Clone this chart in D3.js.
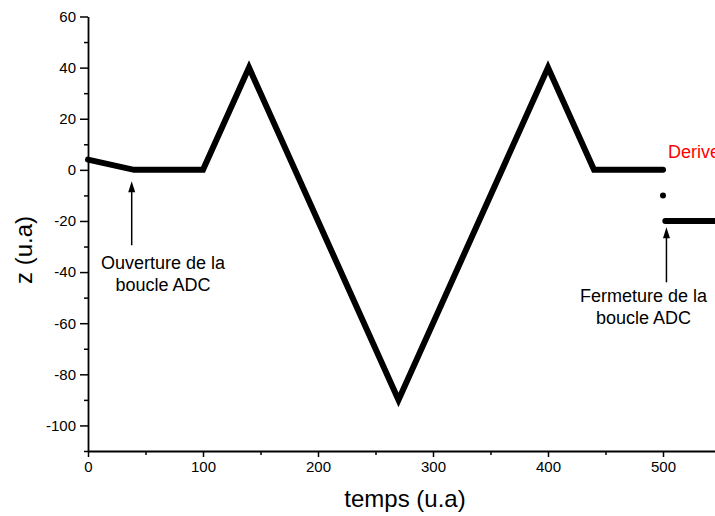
<!DOCTYPE html>
<html><head><meta charset="utf-8">
<script src="https://cdn.jsdelivr.net/npm/d3@7"></script>
<style>
html,body{margin:0;padding:0;background:#fff;overflow:hidden;}
text{font-family:"Liberation Sans",Arial,sans-serif;}
</style></head>
<body>
<script>
// ---- data ----
const mainX = [0, 40, 100, 140, 270, 400, 440, 500];
const mainZ = [4, 0, 0, 40, -90, 40, 0, 0];
const dotX = [500];
const dotZ = [-10];
const afterX = [502, 560];
const afterZ = [-20, -20];
const xTicks = [0, 100, 200, 300, 400, 500];
const xMinor = [50, 150, 250, 350, 450, 550];
const yTicks = [-100, -80, -60, -40, -20, 0, 20, 40, 60];
const yMinor = [-110, -90, -70, -50, -30, -10, 10, 30, 50];
const xLabel = "temps (u.a)";
const yLabel = "z (u.a)";
const noteOpen = ["Ouverture de la", "boucle ADC"];
const noteClose = ["Fermeture de la", "boucle ADC"];
const noteDrift = "Derive";
// arrow positions in data units: [x, zTip, zTail]
const arrowOpen = [38, -4.5, -29.5];
const arrowClose = [503, -22.5, -44];

const W = 715, H = 516;
const svg = d3.select("body").append("svg").attr("width", W).attr("height", H);

const x = d3.scaleLinear().domain([0, 550]).range([88, 88 + 550 * 1.15]);
const y = d3.scaleLinear().domain([-110, 60]).range([451, 16.5]);

// minor ticks
svg.append("g").attr("transform", `translate(0,${y(-110)})`)
  .call(d3.axisBottom(x).tickValues(xMinor).tickSize(4).tickFormat(""))
  .call(g => g.select(".domain").remove());
svg.append("g").attr("transform", `translate(${x(0)},0)`)
  .call(d3.axisLeft(y).tickValues(yMinor).tickSize(4).tickFormat(""))
  .call(g => g.select(".domain").remove());

// major axes
const xa = svg.append("g").attr("transform", `translate(0,${y(-110)})`)
  .call(d3.axisBottom(x).tickValues(xTicks).tickSize(6).tickSizeOuter(0).tickPadding(4).tickFormat(d => String(d)));
const ya = svg.append("g").attr("transform", `translate(${x(0)},0)`)
  .call(d3.axisLeft(y).tickValues(yTicks).tickSize(8).tickSizeOuter(0).tickPadding(4).tickFormat(d => String(d)));
svg.selectAll(".tick line").attr("stroke", "#000").attr("stroke-width", 1.5);
svg.selectAll(".domain").attr("stroke", "#000").attr("stroke-width", 1.8);
svg.selectAll(".tick text").attr("font-size", 15).attr("fill", "#000")
  .style("font-family", "'Liberation Sans', Arial, sans-serif");

// axis titles
svg.append("text").attr("x", 405).attr("y", 507).attr("text-anchor", "middle")
  .attr("font-size", 24).text(xLabel);
svg.append("text").attr("transform", `translate(32,250) rotate(-90)`).attr("text-anchor", "middle")
  .attr("font-size", 24).text(yLabel);

// data
const line = d3.line().x(d => x(d[0])).y(d => y(d[1]));
svg.append("path").datum(mainX.map((v, i) => [v, mainZ[i]]))
  .attr("d", line).attr("fill", "none").attr("stroke", "#000")
  .attr("stroke-width", 6).attr("stroke-linejoin", "miter").attr("stroke-linecap", "round");
svg.append("path").datum(afterX.map((v, i) => [v, afterZ[i]]))
  .attr("d", line).attr("fill", "none").attr("stroke", "#000")
  .attr("stroke-width", 6).attr("stroke-linecap", "round");
svg.selectAll("circle.dot").data(dotX.map((v, i) => [v, dotZ[i]])).enter()
  .append("circle").attr("cx", d => x(d[0])).attr("cy", d => y(d[1])).attr("r", 3).attr("fill", "#000");

// arrows
function arrow(a) {
  const xx = x(a[0]), yt = y(a[1]), yb = y(a[2]);
  svg.append("line").attr("x1", xx).attr("x2", xx).attr("y1", yt + 8).attr("y2", yb)
    .attr("stroke", "#000").attr("stroke-width", 1.5);
  svg.append("path").attr("d", `M${xx},${yt} L${xx - 3.5},${yt + 11} L${xx + 3.5},${yt + 11} Z`).attr("fill", "#000");
}
arrow(arrowOpen);
arrow(arrowClose);

function note(lines, cx, y0) {
  lines.forEach((t, i) => {
    svg.append("text").attr("x", cx).attr("y", y0 + i * 22).attr("text-anchor", "middle")
      .attr("font-size", 18).text(t);
  });
}
note(noteOpen, 163, 269);
note(noteClose, 643.5, 302);
svg.append("text").attr("x", 668).attr("y", 158).attr("font-size", 18).attr("fill", "#ff0000").text(noteDrift);
</script>
</body></html>
